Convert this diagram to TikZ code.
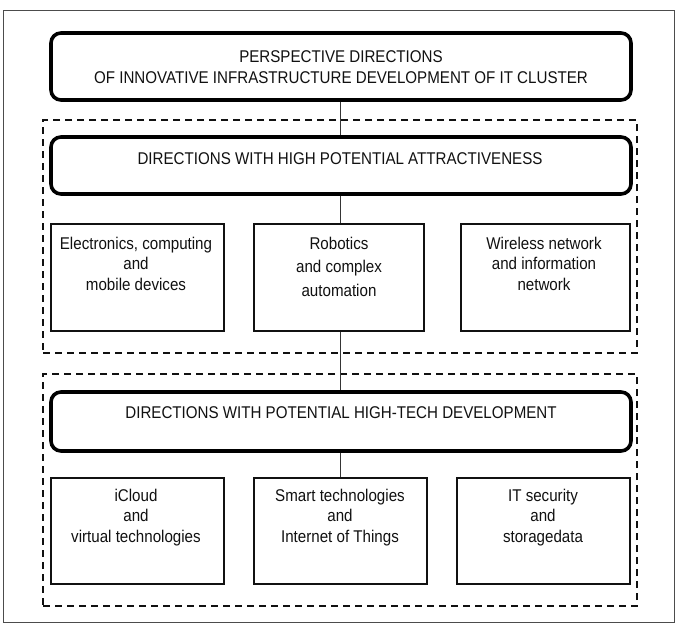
\documentclass[tikz,border=0pt]{standalone}
\usepackage{fontspec}
\setmainfont{Liberation Sans}[FakeStretch=0.89]
\definecolor{ink}{HTML}{111111}
\begin{document}
\begin{tikzpicture}[x=1pt,y=-1pt,
  bigbox/.style={draw=black, line width=3.6pt, rounded corners=10pt, minimum width=580pt, inner sep=0pt},
  smallbox/.style={draw=ink, line width=2pt, inner sep=0pt},
  dashbox/.style={draw=ink, line width=2.2pt, dash pattern=on 7pt off 5pt, inner sep=0pt, minimum width=594pt},
  txt/.style={text=ink, align=center, inner sep=0pt, font=\fontsize{17}{20.5}\selectfont},
  conn/.style={draw=ink!85, line width=0.9pt}]
\useasboundingbox (0,0) rectangle (694,625);
\fill[white] (0,0) rectangle (694,625);
\node[draw=ink!75, line width=0.9pt, minimum width=671pt, minimum height=612pt, inner sep=0pt] (frame) at (338.5,316) {};
% dashed groups
\node[dashbox, minimum height=233pt] (g1) at (340,236.5) {};
\node[dashbox, minimum height=232pt] (g2) at (340,490) {};
% big boxes
\node[bigbox, minimum height=67pt] (top) at (341,66.5) {};
\node[bigbox, minimum height=57pt] (b2) at (341,165.5) {};
\node[bigbox, minimum height=59pt] (b3) at (341,421.5) {};
% small boxes row 1
\node[smallbox, minimum width=173pt, minimum height=107pt] (r1a) at (137.5,277.5) {};
\node[smallbox, minimum width=170pt, minimum height=107pt] (r1b) at (339,277.5) {};
\node[smallbox, minimum width=169pt, minimum height=107pt] (r1c) at (545.5,277.5) {};
% small boxes row 2
\node[smallbox, minimum width=173pt, minimum height=106pt] (r2a) at (137.5,531) {};
\node[smallbox, minimum width=173pt, minimum height=106pt] (r2b) at (340.5,531) {};
\node[smallbox, minimum width=173pt, minimum height=106pt] (r2c) at (543.5,531) {};
% texts
\node[txt] (ttop) at (341,67) {PERSPECTIVE DIRECTIONS\\OF INNOVATIVE INFRASTRUCTURE DEVELOPMENT OF IT CLUSTER};
\node[txt] (tb2) at (340,159) {DIRECTIONS WITH HIGH POTENTIAL ATTRACTIVENESS};
\node[txt] (tb3) at (341,413) {DIRECTIONS WITH POTENTIAL HIGH-TECH DEVELOPMENT};
\node[txt] (t1a) at (136,263.5) {Electronics, computing\\and\\mobile devices};
\node[txt] (t1b) at (339,266.5) {Robotics\\[3pt]and complex\\[3pt]automation};
\node[txt] (t1c) at (544,263.5) {Wireless network\\and information\\network};
\node[txt] (t2a) at (136,517.5) {iCloud\\and\\virtual technologies};
\node[txt] (t2b) at (340,517.5) {Smart technologies\\and\\Internet of Things};
\node[txt] (t2c) at (543,517.5) {IT security\\and\\storagedata};
% connectors (vertical, x = 340)
\draw[conn] ([xshift=-1pt]top.south) -- ([xshift=-1pt]top.south |- b2.north);
\draw[conn] ([xshift=-1pt]b2.south) -- ([xshift=-1pt]b2.south |- r1b.north);
\draw[conn] ([xshift=-1pt]b2.south |- r1b.south) -- ([xshift=-1pt]b3.north);
\draw[conn] ([xshift=-1pt]b3.south) -- ([xshift=-1pt]b3.south |- r2b.north);
\end{tikzpicture}
\end{document}
